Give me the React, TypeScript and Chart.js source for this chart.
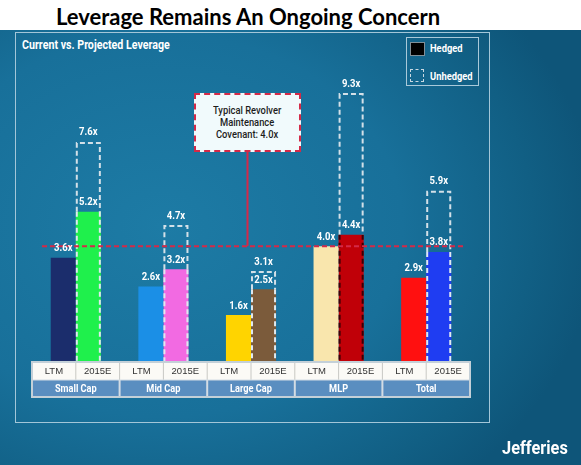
import React, { useEffect, useRef } from 'react';
import { Chart, registerables } from 'chart.js';

Chart.register(...registerables);

// ---------- data ----------
const groups = ['Small Cap', 'Mid Cap', 'Large Cap', 'MLP', 'Total'];
const periods = ['LTM', '2015E'];
const ltmHedged = [3.6, 2.6, 1.6, 4.0, 2.9];
const e2015Hedged = [5.2, 3.2, 2.5, 4.4, 3.8];
const e2015Unhedged = [7.6, 4.7, 3.1, 9.3, 5.9];
const covenantLevel = 4.0;
const ltmColors = ['#1b2d6c', '#1b8fe6', '#ffd400', '#f9e6ad', '#ff1010'];
const e2015Colors = ['#1ff04c', '#f26ae2', '#7b5b3b', '#c00008', '#1f3df2'];
const dashLowerColors = ['#dfe9ef', '#dfe9ef', '#dfe9ef', '#3a0006', '#dfe9ef'];
const yMax = 10;

// ---------- layout ----------
const W = 581;
const H = 465;
const plotLeft = 32;
const plotRight = 470;
const plotTop = 74;
const plotBottom = 361;
const calloutBox = { left: 194, top: 93, width: 107, height: 59 };
const calloutX = calloutBox.left + calloutBox.width / 2;
const cond = "Roboto, 'Liberation Sans', sans-serif";

const fmt = (v: number) => v.toFixed(1) + 'x';

function condText(ctx: CanvasRenderingContext2D, text: string, x: number, y: number, sx: number) {
  ctx.save();
  ctx.translate(x, y);
  ctx.scale(sx, 1);
  ctx.fillText(text, 0, 0);
  ctx.restore();
}

const overlayPlugin = {
  id: 'overlayPlugin',
  afterDatasetsDraw(chart: any) {
    const ctx: CanvasRenderingContext2D = chart.ctx;
    const xs = chart.scales.x;
    const ys = chart.scales.y;
    const area = chart.chartArea;
    const ltmMeta = chart.getDatasetMeta(0);
    const unMeta = chart.getDatasetMeta(1);
    const hMeta = chart.getDatasetMeta(2);
    ctx.save();

    // dashed unhedged boxes
    ctx.lineWidth = 2;
    ctx.setLineDash([5, 3]);
    unMeta.data.forEach((el: any, i: number) => {
      const p = el.getProps(['x', 'y', 'base', 'width'], true);
      const l = p.x - p.width / 2 + 1;
      const r = p.x + p.width / 2 - 1;
      const hTop = hMeta.data[i].y;
      ctx.strokeStyle = '#d3e0e8';
      ctx.beginPath();
      ctx.moveTo(l, hTop);
      ctx.lineTo(l, p.y);
      ctx.lineTo(r, p.y);
      ctx.lineTo(r, hTop);
      ctx.stroke();
      ctx.strokeStyle = dashLowerColors[i];
      ctx.beginPath();
      ctx.moveTo(l, hTop);
      ctx.lineTo(l, p.base);
      ctx.moveTo(r, hTop);
      ctx.lineTo(r, p.base);
      ctx.stroke();
    });

    // covenant line
    const cy = ys.getPixelForValue(covenantLevel);
    ctx.strokeStyle = '#d42a48';
    ctx.lineWidth = 2;
    ctx.setLineDash([5, 3]);
    ctx.beginPath();
    ctx.moveTo(area.left + 10, cy);
    ctx.lineTo(area.right - 7, cy);
    ctx.stroke();
    ctx.setLineDash([]);
    ctx.strokeStyle = '#d62848';
    ctx.lineWidth = 2;
    ctx.beginPath();
    ctx.moveTo(calloutX, calloutBox.top + calloutBox.height);
    ctx.lineTo(calloutX, cy);
    ctx.stroke();

    // value labels
    ctx.font = `bold 10px ${cond}`;
    ctx.fillStyle = '#ffffff';
    ctx.textAlign = 'center';
    ctx.textBaseline = 'middle';
    ltmMeta.data.forEach((el: any, i: number) => {
      condText(ctx, fmt(ltmHedged[i]), el.x, el.y - 9, 0.95);
    });
    hMeta.data.forEach((el: any, i: number) => {
      condText(ctx, fmt(e2015Hedged[i]), el.x, el.y - 9, 0.95);
    });
    unMeta.data.forEach((el: any, i: number) => {
      condText(ctx, fmt(e2015Unhedged[i]), el.x, el.y - 10, 0.95);
    });

    // category table
    const top = area.bottom + 1;
    const r1 = 18;
    const r2 = 17;
    const gw = (area.right - area.left) / groups.length;
    ctx.fillStyle = '#fbfaf6';
    ctx.fillRect(area.left, top, area.right - area.left, r1);
    ctx.fillStyle = '#5a8ec0';
    ctx.fillRect(area.left, top + r1, area.right - area.left, r2);
    groups.forEach((g, i) => {
      const cx = xs.getPixelForValue(i);
      const gl = cx - gw / 2;
      const gr = cx + gw / 2;
      ctx.strokeStyle = '#c8c8c4';
      ctx.lineWidth = 1;
      ctx.beginPath();
      ctx.moveTo(cx, top);
      ctx.lineTo(cx, top + r1);
      ctx.moveTo(gl, top);
      ctx.lineTo(gl, top + r1);
      ctx.stroke();
      ctx.strokeStyle = '#d3dce4';
      ctx.lineWidth = 2;
      ctx.beginPath();
      ctx.moveTo(gl, top + r1);
      ctx.lineTo(gl, top + r1 + r2);
      ctx.stroke();
      ctx.fillStyle = '#333333';
      ctx.font = `9.5px 'Liberation Sans', Arial, sans-serif`;
      ctx.fillText(periods[0], (gl + cx) / 2, top + r1 / 2 + 0.5);
      ctx.fillText(periods[1], (cx + gr) / 2, top + r1 / 2 + 0.5);
      ctx.fillStyle = '#ffffff';
      ctx.font = `bold 10px ${cond}`;
      condText(ctx, g, cx, top + r1 + r2 / 2 + 0.5, 0.92);
    });
    ctx.strokeStyle = '#d3dce4';
    ctx.lineWidth = 1;
    ctx.beginPath();
    ctx.moveTo(area.left, top + r1);
    ctx.lineTo(area.right, top + r1);
    ctx.stroke();
    ctx.strokeStyle = '#c4d0d8';
    ctx.lineWidth = 2;
    ctx.strokeRect(area.left, top, area.right - area.left, r1 + r2);
    ctx.restore();
  },
};

export default function App() {
  const canvasRef = useRef<HTMLCanvasElement | null>(null);

  useEffect(() => {
    if (!canvasRef.current) return;
    const chart = new Chart(canvasRef.current, {
      type: 'bar',
      data: {
        labels: groups,
        datasets: [
          {
            label: 'LTM',
            data: ltmHedged,
            stack: 'ltm',
            backgroundColor: ltmColors,
            borderWidth: 0,
          },
          {
            label: '2015E Unhedged',
            data: e2015Unhedged,
            stack: 'e2015',
            backgroundColor: 'rgba(0,0,0,0)',
            borderWidth: 0,
          },
          {
            label: '2015E Hedged',
            data: e2015Hedged,
            stack: 'e2015',
            backgroundColor: e2015Colors,
            borderWidth: 0,
          },
        ],
      },
      options: {
        animation: false,
        responsive: false,
        maintainAspectRatio: false,
        devicePixelRatio: 1,
        layout: {
          padding: { left: plotLeft, right: W - plotRight, top: plotTop, bottom: H - plotBottom },
        },
        datasets: {
          bar: { categoryPercentage: 0.572, barPercentage: 1.0 },
        },
        scales: {
          x: { display: false, grid: { display: false } },
          y: { display: false, min: 0, max: yMax, stacked: false, grid: { display: false } },
        },
        plugins: {
          legend: { display: false },
          tooltip: { enabled: false },
          title: { display: false },
        },
      },
      plugins: [overlayPlugin],
    });
    return () => chart.destroy();
  }, []);

  const boldCond = (sx: number): React.CSSProperties => ({
    fontFamily: cond,
    fontWeight: 'bold',
    color: '#ffffff',
    whiteSpace: 'nowrap',
    transform: `scaleX(${sx})`,
    transformOrigin: 'left center',
  });

  return (
    <div style={{ position: 'absolute', left: 0, top: 0, width: W, height: H, overflow: 'hidden', background: '#ffffff' }}>
      <div
        style={{
          position: 'absolute',
          left: 0,
          top: 30,
          width: W,
          height: H - 30,
          background: 'radial-gradient(ellipse 75% 80% at 28% 45%, #1d7ba5 0%, #18709a 55%, #115f84 85%, #0e5579 100%)',
        }}
      />
      <div
        style={{
          position: 'absolute',
          left: 0,
          top: 3,
          width: 496,
          textAlign: 'center',
          fontFamily: "Lato, 'Open Sans', sans-serif",
          fontWeight: 'bold',
          fontSize: 22,
          lineHeight: '27px',
          color: '#000000',
        }}
      >
        Leverage Remains An Ongoing Concern
      </div>
      <div
        style={{
          position: 'absolute',
          left: 15,
          top: 32,
          width: 473,
          height: 389,
          border: '1.5px solid #a3c6d8',
        }}
      />
      <div style={{ ...boldCond(0.82), position: 'absolute', left: 22, top: 37, fontSize: 13, lineHeight: '15px' }}>
        Current vs. Projected Leverage
      </div>
      <div
        style={{
          position: 'absolute',
          left: 406,
          top: 37,
          width: 71,
          height: 47,
          border: '1.5px solid #a9c9d9',
        }}
      />
      <div style={{ position: 'absolute', left: 410, top: 42, width: 13, height: 12, background: '#000000', border: '1px solid #7f8f98' }} />
      <div style={{ ...boldCond(0.85), position: 'absolute', left: 430, top: 42, fontSize: 11, lineHeight: '13px' }}>Hedged</div>
      <div style={{ position: 'absolute', left: 410, top: 69, width: 12, height: 11, border: '1.5px dashed #c9d9e2' }} />
      <div style={{ ...boldCond(0.85), position: 'absolute', left: 430, top: 70, fontSize: 11, lineHeight: '13px' }}>Unhedged</div>
      <canvas ref={canvasRef} width={W} height={H} style={{ position: 'absolute', left: 0, top: 0, width: W, height: H }} />
      <div
        style={{
          position: 'absolute',
          left: calloutBox.left,
          top: calloutBox.top,
          width: calloutBox.width - 4,
          height: calloutBox.height - 4,
          border: '2px dashed #d42a48',
          background: '#f1fafc',
          display: 'flex',
          alignItems: 'center',
          justifyContent: 'center',
          textAlign: 'center',
          fontFamily: cond,
          fontWeight: 500,
          fontSize: 11,
          lineHeight: '12px',
          color: '#1d1d1d',
        }}
      >
        <div style={{ transform: 'scaleX(0.85)', whiteSpace: 'nowrap' }}>
          Typical Revolver
          <br />
          Maintenance
          <br />
          Covenant: 4.0x
        </div>
      </div>
      <div style={{ ...boldCond(0.86), position: 'absolute', left: 502, top: 437, fontSize: 19, lineHeight: '22px' }}>Jefferies</div>
    </div>
  );
}
